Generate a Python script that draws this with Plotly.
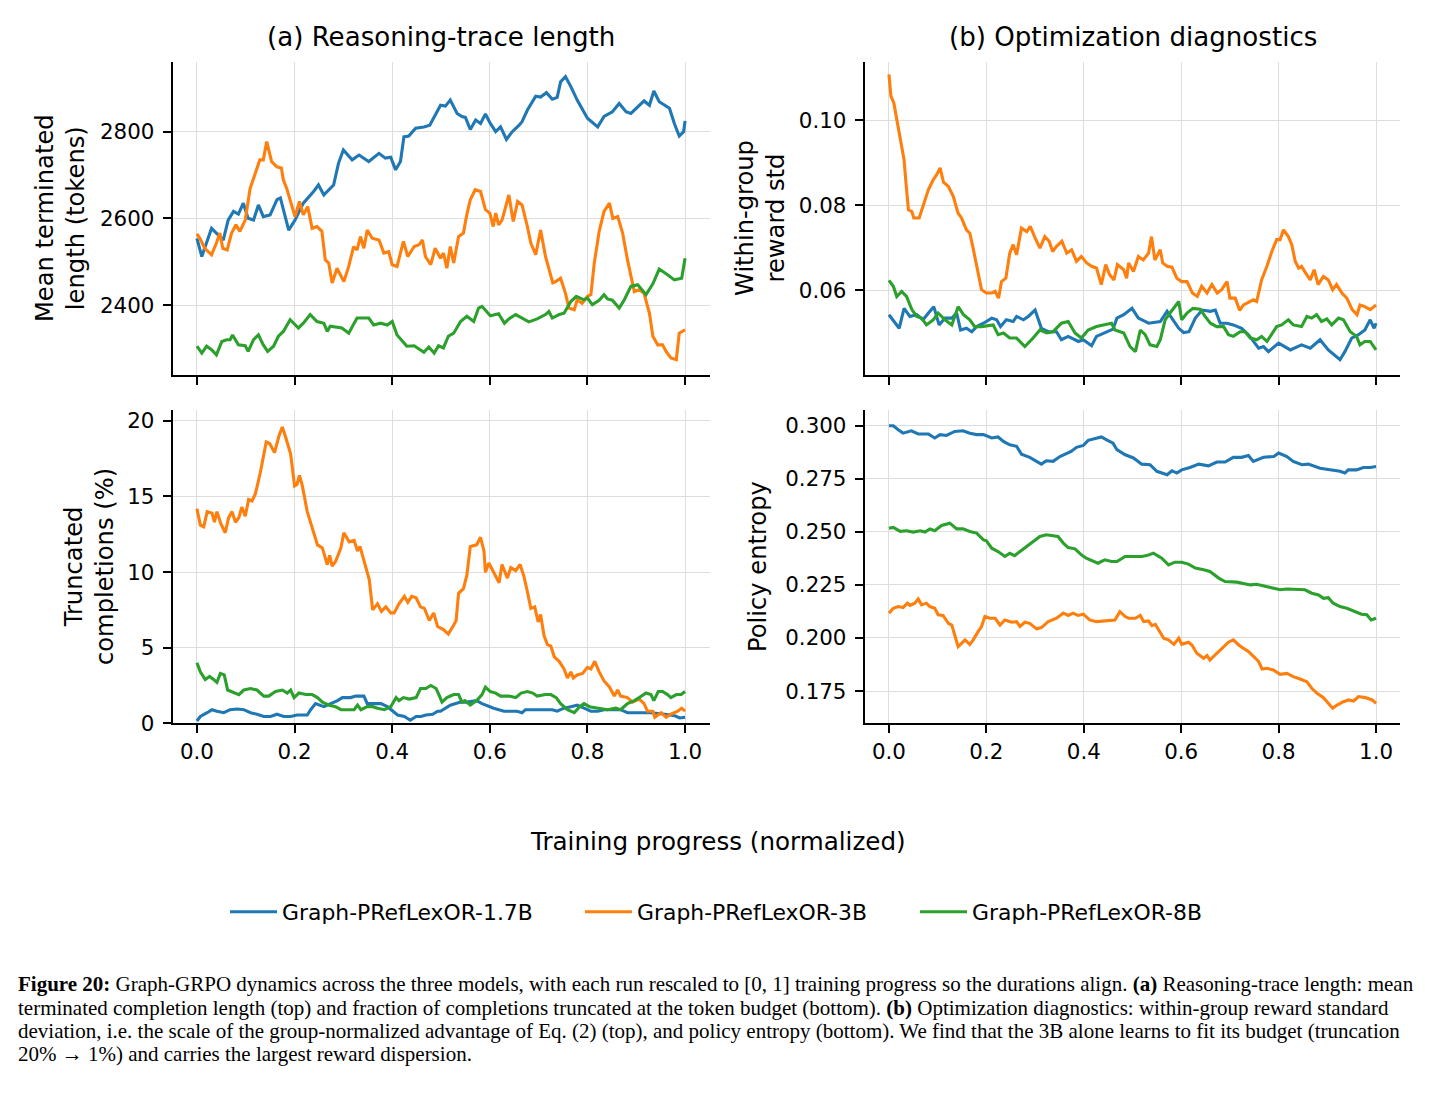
import plotly.graph_objects as go

# ---------------- data ----------------
models = ["Graph-PRefLexOR-1.7B", "Graph-PRefLexOR-3B", "Graph-PRefLexOR-8B"]
colors = ["#1f77b4", "#ff7f0e", "#2ca02c"]
progress_ticks = [0.0, 0.2, 0.4, 0.6, 0.8, 1.0]
progress_tick_labels = ["0.0", "0.2", "0.4", "0.6", "0.8", "1.0"]

length_ticks = [2400, 2600, 2800]
trunc_ticks = [0, 5, 10, 15, 20]
std_ticks = [0.06, 0.08, 0.10]
std_tick_labels = ["0.06", "0.08", "0.10"]
entropy_ticks = [0.175, 0.200, 0.225, 0.250, 0.275, 0.300]
entropy_tick_labels = ["0.175", "0.200", "0.225", "0.250", "0.275", "0.300"]

# (progress, value) pairs
length_17b = [(0.0,2554),(0.01,2512),(0.03,2577),(0.04,2566),(0.054,2550),(0.064,2596),(0.075,2616),(0.085,2610),(0.095,2635),(0.105,2600),(0.116,2596),(0.126,2631),(0.136,2604),(0.15,2608),(0.164,2643),(0.171,2647),(0.188,2573),(0.201,2596),(0.218,2635),(0.239,2662),(0.249,2677),(0.26,2654),(0.28,2677),(0.29,2727),(0.30,2758),(0.318,2735),(0.332,2746),(0.352,2731),(0.373,2750),(0.386,2739),(0.397,2741),(0.407,2712),(0.417,2731),(0.424,2788),(0.434,2790),(0.448,2808),(0.465,2811),(0.477,2815),(0.489,2842),(0.499,2861),(0.509,2859),(0.519,2873),(0.533,2842),(0.543,2835),(0.55,2833),(0.56,2805),(0.571,2827),(0.581,2819),(0.591,2841),(0.601,2819),(0.612,2800),(0.622,2811),(0.634,2782),(0.646,2800),(0.66,2815),(0.666,2823),(0.677,2850),(0.694,2882),(0.704,2880),(0.716,2890),(0.728,2875),(0.738,2879),(0.745,2915),(0.755,2927),(0.766,2904),(0.779,2873),(0.8,2831),(0.821,2811),(0.834,2835),(0.851,2846),(0.865,2865),(0.879,2846),(0.889,2842),(0.903,2857),(0.916,2871),(0.927,2861),(0.936,2894),(0.947,2869),(0.958,2861),(0.968,2854),(0.978,2819),(0.988,2790),(0.997,2800),(1.0,2825)]
length_3b = [(0.0,2564),(0.006,2554),(0.016,2531),(0.03,2516),(0.04,2543),(0.047,2566),(0.053,2531),(0.062,2527),(0.071,2566),(0.08,2585),(0.088,2570),(0.099,2596),(0.109,2669),(0.119,2704),(0.129,2735),(0.136,2735),(0.143,2777),(0.153,2731),(0.164,2719),(0.173,2716),(0.177,2689),(0.184,2669),(0.194,2627),(0.201,2604),(0.21,2639),(0.218,2608),(0.227,2627),(0.236,2577),(0.246,2581),(0.256,2570),(0.263,2504),(0.27,2497),(0.277,2451),(0.287,2485),(0.301,2454),(0.311,2489),(0.321,2535),(0.328,2527),(0.335,2558),(0.342,2531),(0.349,2573),(0.359,2554),(0.373,2550),(0.383,2520),(0.393,2523),(0.4,2493),(0.41,2489),(0.423,2547),(0.432,2512),(0.445,2535),(0.455,2539),(0.462,2550),(0.468,2512),(0.479,2493),(0.488,2531),(0.499,2508),(0.505,2520),(0.512,2485),(0.519,2535),(0.526,2497),(0.536,2558),(0.546,2566),(0.552,2604),(0.56,2643),(0.57,2666),(0.581,2662),(0.591,2620),(0.6,2612),(0.607,2581),(0.612,2612),(0.618,2585),(0.625,2596),(0.639,2654),(0.648,2593),(0.657,2639),(0.666,2631),(0.677,2581),(0.684,2543),(0.694,2516),(0.704,2573),(0.714,2512),(0.729,2451),(0.735,2454),(0.745,2462),(0.755,2427),(0.762,2393),(0.773,2389),(0.779,2412),(0.789,2404),(0.8,2420),(0.807,2424),(0.814,2497),(0.824,2570),(0.834,2616),(0.845,2635),(0.852,2600),(0.862,2604),(0.872,2566),(0.882,2504),(0.889,2466),(0.896,2431),(0.906,2435),(0.916,2427),(0.927,2381),(0.934,2328),(0.944,2308),(0.954,2308),(0.961,2293),(0.971,2278),(0.982,2274),(0.988,2335),(1.0,2343)]
length_8b = [(0.0,2305),(0.01,2289),(0.02,2305),(0.03,2297),(0.04,2285),(0.051,2316),(0.061,2320),(0.068,2320),(0.073,2331),(0.085,2308),(0.099,2306),(0.105,2293),(0.116,2320),(0.126,2331),(0.136,2308),(0.145,2293),(0.157,2305),(0.167,2328),(0.177,2339),(0.191,2366),(0.208,2347),(0.218,2358),(0.232,2378),(0.246,2362),(0.26,2358),(0.267,2339),(0.273,2351),(0.297,2347),(0.311,2335),(0.328,2370),(0.352,2370),(0.362,2354),(0.376,2358),(0.39,2354),(0.4,2362),(0.41,2331),(0.43,2305),(0.445,2306),(0.465,2291),(0.475,2303),(0.486,2289),(0.495,2306),(0.505,2301),(0.515,2328),(0.526,2335),(0.54,2362),(0.553,2374),(0.567,2362),(0.577,2393),(0.584,2397),(0.601,2375),(0.618,2380),(0.63,2358),(0.639,2368),(0.653,2378),(0.666,2370),(0.68,2361),(0.697,2368),(0.714,2378),(0.721,2385),(0.728,2370),(0.742,2378),(0.752,2381),(0.766,2408),(0.777,2420),(0.793,2412),(0.8,2416),(0.81,2401),(0.824,2411),(0.834,2424),(0.841,2414),(0.851,2411),(0.865,2393),(0.875,2411),(0.889,2443),(0.903,2447),(0.92,2424),(0.934,2449),(0.947,2483),(0.964,2470),(0.978,2458),(0.993,2462),(1.0,2508)]

trunc_17b = [(0.0,0.15),(0.007,0.45),(0.021,0.7),(0.031,0.9),(0.041,0.8),(0.055,0.7),(0.068,0.9),(0.082,0.95),(0.096,0.9),(0.11,0.7),(0.123,0.6),(0.137,0.45),(0.151,0.45),(0.164,0.6),(0.178,0.45),(0.192,0.45),(0.205,0.55),(0.226,0.55),(0.233,0.9),(0.243,1.3),(0.26,1.1),(0.274,1.3),(0.288,1.5),(0.298,1.7),(0.315,1.7),(0.325,1.8),(0.342,1.8),(0.349,1.3),(0.36,1.3),(0.377,1.3),(0.39,1.1),(0.401,0.8),(0.411,0.55),(0.425,0.45),(0.437,0.2),(0.449,0.45),(0.459,0.45),(0.469,0.55),(0.483,0.6),(0.493,0.8),(0.499,0.8),(0.519,1.2),(0.54,1.4),(0.553,1.4),(0.573,1.5),(0.584,1.3),(0.598,1.1),(0.608,1.0),(0.629,0.8),(0.643,0.8),(0.656,0.8),(0.666,0.7),(0.673,0.9),(0.684,0.9),(0.711,0.9),(0.728,0.9),(0.738,0.8),(0.752,1.0),(0.766,1.1),(0.779,1.2),(0.793,1.0),(0.807,0.8),(0.821,0.8),(0.834,0.9),(0.851,0.9),(0.868,0.9),(0.882,0.7),(0.903,0.7),(0.93,0.7),(0.958,0.6),(0.979,0.5),(0.989,0.35),(1.0,0.4)]
trunc_3b = [(0.0,14.2),(0.007,13.1),(0.014,13.0),(0.021,14.0),(0.031,13.9),(0.036,13.3),(0.041,14.0),(0.049,13.2),(0.058,12.6),(0.065,13.6),(0.072,14.0),(0.079,13.3),(0.086,13.6),(0.092,14.3),(0.099,13.7),(0.106,14.8),(0.113,14.7),(0.12,15.2),(0.13,16.6),(0.142,18.6),(0.149,18.5),(0.159,17.9),(0.168,19.0),(0.175,19.6),(0.182,18.9),(0.192,17.8),(0.2,15.7),(0.205,15.8),(0.21,16.4),(0.216,15.7),(0.226,14.0),(0.236,12.9),(0.247,11.8),(0.257,11.6),(0.267,10.5),(0.272,11.1),(0.277,10.4),(0.284,10.7),(0.295,11.6),(0.301,12.6),(0.312,12.0),(0.322,12.1),(0.329,11.4),(0.334,11.7),(0.342,10.7),(0.353,9.5),(0.36,7.5),(0.37,7.9),(0.378,7.4),(0.387,7.7),(0.397,7.3),(0.404,7.3),(0.414,7.9),(0.425,8.4),(0.432,8.0),(0.44,8.4),(0.449,8.3),(0.458,7.7),(0.466,7.6),(0.476,6.8),(0.485,7.3),(0.493,6.4),(0.505,6.2),(0.515,5.9),(0.526,6.5),(0.531,6.8),(0.536,8.6),(0.546,8.9),(0.553,9.8),(0.56,11.7),(0.573,11.8),(0.581,12.3),(0.588,11.4),(0.591,10.0),(0.598,10.6),(0.608,10.0),(0.619,9.3),(0.625,10.5),(0.636,9.6),(0.643,10.3),(0.653,10.1),(0.662,10.5),(0.67,9.7),(0.677,8.7),(0.684,7.6),(0.692,7.7),(0.699,6.7),(0.704,7.2),(0.711,5.8),(0.718,5.2),(0.725,5.1),(0.732,4.4),(0.742,4.1),(0.752,3.6),(0.759,3.0),(0.766,3.4),(0.771,3.0),(0.779,3.2),(0.79,3.3),(0.8,3.7),(0.807,3.6),(0.815,4.1),(0.824,3.4),(0.834,2.8),(0.845,2.4),(0.855,1.8),(0.862,2.2),(0.868,1.8),(0.882,1.7),(0.892,1.4),(0.906,1.6),(0.916,1.3),(0.923,0.8),(0.934,0.8),(0.938,0.4),(0.951,0.7),(0.961,0.4),(0.971,0.6),(0.985,0.8),(0.993,1.0),(1.0,0.8)]
trunc_8b = [(0.0,4.0),(0.007,3.4),(0.017,2.9),(0.026,3.1),(0.034,2.9),(0.041,2.7),(0.048,3.3),(0.056,3.2),(0.063,2.2),(0.072,2.1),(0.086,1.9),(0.096,2.2),(0.11,2.3),(0.123,2.2),(0.137,1.8),(0.147,1.8),(0.161,2.1),(0.175,2.2),(0.185,2.0),(0.192,2.2),(0.199,1.7),(0.209,2.0),(0.223,1.9),(0.236,1.9),(0.247,1.7),(0.257,1.4),(0.271,1.2),(0.284,1.1),(0.295,0.9),(0.308,0.9),(0.322,0.9),(0.329,1.2),(0.336,0.9),(0.349,1.1),(0.36,1.1),(0.37,1.0),(0.384,0.9),(0.397,1.1),(0.408,1.7),(0.414,1.5),(0.423,1.7),(0.435,1.6),(0.449,1.7),(0.458,2.3),(0.469,2.3),(0.479,2.5),(0.49,2.3),(0.497,1.8),(0.502,1.4),(0.512,1.7),(0.526,1.9),(0.536,1.9),(0.543,1.4),(0.549,1.5),(0.56,1.2),(0.573,1.5),(0.584,1.9),(0.591,2.4),(0.601,2.1),(0.612,2.0),(0.622,1.8),(0.639,1.8),(0.653,1.7),(0.664,2.0),(0.677,2.1),(0.688,2.0),(0.697,1.8),(0.714,1.9),(0.725,1.9),(0.736,1.7),(0.745,1.3),(0.759,0.9),(0.773,0.7),(0.784,1.1),(0.793,1.3),(0.804,1.1),(0.821,1.0),(0.841,0.9),(0.858,1.0),(0.868,0.9),(0.882,1.3),(0.896,1.5),(0.906,1.7),(0.92,2.0),(0.93,1.9),(0.936,1.5),(0.945,2.1),(0.954,2.1),(0.964,1.9),(0.971,1.7),(0.982,1.9),(0.992,1.9),(1.0,2.1)]

std_17b = [(0.0,0.0542),(0.012,0.0522),(0.021,0.051),(0.031,0.0557),(0.043,0.0538),(0.057,0.0542),(0.07,0.053),(0.081,0.0546),(0.092,0.0561),(0.103,0.0518),(0.115,0.0534),(0.129,0.0534),(0.139,0.0546),(0.147,0.0506),(0.159,0.051),(0.17,0.0502),(0.18,0.0514),(0.194,0.0522),(0.211,0.0534),(0.221,0.053),(0.229,0.0514),(0.241,0.053),(0.255,0.0526),(0.262,0.0538),(0.276,0.053),(0.286,0.0538),(0.3,0.0553),(0.313,0.051),(0.327,0.0502),(0.344,0.0502),(0.354,0.0483),(0.368,0.0491),(0.389,0.0479),(0.399,0.0483),(0.416,0.0469),(0.426,0.0491),(0.443,0.0499),(0.46,0.0508),(0.468,0.0534),(0.482,0.0542),(0.499,0.0557),(0.512,0.0534),(0.533,0.0522),(0.557,0.0526),(0.571,0.055),(0.581,0.0534),(0.595,0.051),(0.605,0.05),(0.616,0.0502),(0.629,0.0534),(0.643,0.0553),(0.66,0.055),(0.67,0.0553),(0.68,0.0522),(0.694,0.0522),(0.707,0.0518),(0.724,0.051),(0.738,0.0495),(0.759,0.0463),(0.769,0.0467),(0.779,0.0455),(0.8,0.0475),(0.824,0.0459),(0.847,0.0471),(0.865,0.0463),(0.885,0.0483),(0.902,0.0459),(0.926,0.0436),(0.936,0.0455),(0.95,0.0487),(0.964,0.0495),(0.977,0.0506),(0.988,0.053),(0.996,0.051),(1.0,0.0522)]
std_3b = [(0.0,0.1108),(0.004,0.1057),(0.01,0.1041),(0.016,0.1002),(0.024,0.0954),(0.031,0.0907),(0.035,0.0852),(0.04,0.0789),(0.047,0.0785),(0.051,0.077),(0.062,0.077),(0.07,0.0797),(0.081,0.0837),(0.091,0.086),(0.098,0.0872),(0.105,0.0888),(0.112,0.0854),(0.122,0.0844),(0.132,0.0821),(0.142,0.0781),(0.149,0.077),(0.159,0.0742),(0.166,0.0734),(0.172,0.0703),(0.18,0.0656),(0.19,0.0601),(0.2,0.0593),(0.211,0.0593),(0.218,0.0597),(0.225,0.0581),(0.231,0.062),(0.24,0.0628),(0.248,0.0687),(0.255,0.0707),(0.262,0.0683),(0.272,0.0746),(0.283,0.0738),(0.29,0.075),(0.3,0.0723),(0.31,0.0699),(0.32,0.0726),(0.329,0.0715),(0.336,0.0691),(0.344,0.0703),(0.355,0.0715),(0.365,0.0687),(0.375,0.0695),(0.385,0.0668),(0.395,0.0679),(0.406,0.0664),(0.416,0.0656),(0.426,0.0652),(0.436,0.0613),(0.445,0.066),(0.453,0.0636),(0.462,0.0624),(0.469,0.066),(0.482,0.0648),(0.488,0.0628),(0.492,0.0664),(0.502,0.0644),(0.512,0.0679),(0.522,0.0671),(0.533,0.0687),(0.539,0.0726),(0.546,0.0671),(0.557,0.0695),(0.562,0.0664),(0.571,0.0656),(0.581,0.0654),(0.591,0.0628),(0.601,0.062),(0.612,0.062),(0.623,0.0593),(0.633,0.0585),(0.642,0.0609),(0.653,0.0593),(0.663,0.0613),(0.674,0.0593),(0.683,0.0601),(0.694,0.062),(0.7,0.0581),(0.711,0.0581),(0.72,0.0552),(0.728,0.0565),(0.742,0.0573),(0.748,0.0577),(0.755,0.0573),(0.765,0.0624),(0.776,0.0656),(0.786,0.0691),(0.796,0.0719),(0.803,0.0719),(0.81,0.0742),(0.82,0.0726),(0.827,0.0707),(0.834,0.0668),(0.841,0.0652),(0.847,0.0656),(0.858,0.0636),(0.865,0.0624),(0.873,0.0648),(0.881,0.0613),(0.892,0.0632),(0.902,0.0624),(0.911,0.0601),(0.919,0.0613),(0.93,0.0593),(0.94,0.0581),(0.951,0.0554),(0.961,0.0542),(0.967,0.0565),(0.977,0.0561),(0.988,0.0554),(1.0,0.0565)]
std_8b = [(0.0,0.0623),(0.009,0.0609),(0.016,0.0585),(0.026,0.0597),(0.036,0.0585),(0.047,0.0554),(0.057,0.0538),(0.067,0.0534),(0.077,0.0518),(0.091,0.053),(0.101,0.0546),(0.115,0.053),(0.129,0.0518),(0.142,0.0561),(0.153,0.0542),(0.166,0.053),(0.176,0.0514),(0.19,0.0514),(0.214,0.0518),(0.224,0.0495),(0.235,0.0499),(0.248,0.0487),(0.262,0.0487),(0.279,0.0467),(0.296,0.0487),(0.31,0.0506),(0.324,0.0499),(0.337,0.0502),(0.354,0.0522),(0.368,0.0526),(0.382,0.0499),(0.395,0.0487),(0.409,0.0506),(0.426,0.0514),(0.44,0.0518),(0.457,0.0522),(0.464,0.0506),(0.482,0.0499),(0.495,0.0467),(0.506,0.0455),(0.516,0.0506),(0.526,0.0495),(0.536,0.0471),(0.55,0.0467),(0.557,0.0483),(0.567,0.053),(0.577,0.0546),(0.588,0.0563),(0.595,0.0573),(0.601,0.053),(0.612,0.0546),(0.624,0.0557),(0.639,0.0555),(0.649,0.0538),(0.66,0.0522),(0.673,0.0514),(0.687,0.0514),(0.697,0.0495),(0.707,0.0491),(0.721,0.0502),(0.731,0.0502),(0.742,0.0487),(0.755,0.0483),(0.765,0.0491),(0.776,0.0479),(0.796,0.0514),(0.806,0.0518),(0.82,0.053),(0.83,0.0518),(0.847,0.0514),(0.858,0.0538),(0.868,0.0534),(0.878,0.0542),(0.888,0.0526),(0.899,0.0532),(0.909,0.0518),(0.923,0.0534),(0.933,0.053),(0.947,0.0502),(0.96,0.0491),(0.967,0.0471),(0.977,0.0479),(0.988,0.0479),(1.0,0.0459)]

entropy_17b = [(0.0,0.300),(0.009,0.300),(0.019,0.2981),(0.029,0.2965),(0.046,0.2976),(0.06,0.2961),(0.081,0.2961),(0.094,0.2942),(0.105,0.2958),(0.118,0.2954),(0.135,0.2973),(0.152,0.2976),(0.166,0.2965),(0.18,0.2958),(0.194,0.2958),(0.211,0.2942),(0.224,0.2947),(0.235,0.2926),(0.248,0.291),(0.262,0.2903),(0.272,0.2866),(0.289,0.2851),(0.303,0.2832),(0.313,0.2819),(0.323,0.2835),(0.337,0.2832),(0.351,0.2855),(0.365,0.2871),(0.374,0.2879),(0.385,0.2898),(0.399,0.2907),(0.409,0.2931),(0.423,0.2939),(0.436,0.2947),(0.446,0.2934),(0.46,0.2918),(0.468,0.2887),(0.485,0.2863),(0.502,0.2848),(0.519,0.2819),(0.536,0.2816),(0.55,0.2785),(0.571,0.2769),(0.581,0.2788),(0.591,0.2777),(0.601,0.2792),(0.618,0.2803),(0.636,0.2819),(0.656,0.2811),(0.673,0.2829),(0.69,0.2829),(0.707,0.2851),(0.724,0.2851),(0.738,0.286),(0.748,0.2832),(0.769,0.2851),(0.79,0.2855),(0.8,0.2871),(0.817,0.2855),(0.83,0.2832),(0.848,0.2816),(0.861,0.2819),(0.885,0.28),(0.909,0.2792),(0.926,0.2785),(0.936,0.2777),(0.943,0.2792),(0.96,0.2792),(0.974,0.2803),(0.988,0.2803),(1.0,0.2808)]
entropy_3b = [(0.0,0.2117),(0.009,0.214),(0.019,0.2148),(0.029,0.2143),(0.038,0.2164),(0.043,0.2153),(0.053,0.2164),(0.06,0.2184),(0.067,0.2156),(0.077,0.2164),(0.084,0.2148),(0.094,0.214),(0.101,0.2109),(0.111,0.2106),(0.122,0.2069),(0.129,0.2061),(0.135,0.2014),(0.142,0.1959),(0.149,0.1975),(0.156,0.1991),(0.166,0.197),(0.173,0.1991),(0.183,0.203),(0.19,0.2054),(0.197,0.2101),(0.207,0.2093),(0.218,0.2093),(0.228,0.2061),(0.238,0.2085),(0.252,0.2074),(0.262,0.2077),(0.269,0.2054),(0.279,0.2074),(0.289,0.2069),(0.303,0.2043),(0.313,0.2049),(0.327,0.2077),(0.344,0.2093),(0.358,0.2117),(0.368,0.2106),(0.378,0.2117),(0.388,0.2106),(0.399,0.2112),(0.412,0.2085),(0.426,0.2077),(0.44,0.208),(0.453,0.2085),(0.464,0.2085),(0.474,0.2124),(0.485,0.2101),(0.492,0.2093),(0.506,0.2093),(0.516,0.2106),(0.523,0.2077),(0.533,0.208),(0.54,0.2058),(0.547,0.2064),(0.557,0.2022),(0.564,0.1999),(0.574,0.1991),(0.585,0.197),(0.595,0.1999),(0.601,0.197),(0.615,0.198),(0.622,0.1967),(0.632,0.1928),(0.646,0.1904),(0.653,0.1917),(0.659,0.1896),(0.673,0.1928),(0.687,0.1959),(0.697,0.198),(0.707,0.1991),(0.718,0.1967),(0.728,0.1951),(0.738,0.1936),(0.749,0.1912),(0.759,0.1889),(0.766,0.1854),(0.776,0.1857),(0.789,0.1849),(0.803,0.1829),(0.817,0.1833),(0.83,0.1818),(0.844,0.1807),(0.858,0.1794),(0.868,0.1763),(0.879,0.1739),(0.892,0.1719),(0.902,0.1692),(0.911,0.1669),(0.92,0.1684),(0.933,0.17),(0.944,0.1708),(0.954,0.1703),(0.964,0.1724),(0.978,0.1719),(0.992,0.1708),(1.0,0.1692)]
entropy_8b = [(0.0,0.2517),(0.009,0.2521),(0.023,0.2502),(0.036,0.2505),(0.05,0.2499),(0.064,0.2505),(0.074,0.2499),(0.084,0.2514),(0.094,0.2505),(0.108,0.253),(0.125,0.2541),(0.139,0.2514),(0.152,0.2514),(0.166,0.2502),(0.18,0.2494),(0.194,0.2462),(0.2,0.2458),(0.211,0.2423),(0.224,0.2407),(0.238,0.2384),(0.248,0.2399),(0.258,0.2388),(0.269,0.2407),(0.282,0.2431),(0.296,0.2455),(0.31,0.2478),(0.323,0.2486),(0.337,0.2483),(0.347,0.2478),(0.358,0.2447),(0.368,0.2426),(0.382,0.242),(0.395,0.2392),(0.405,0.2376),(0.419,0.2363),(0.429,0.2352),(0.443,0.2368),(0.457,0.236),(0.468,0.236),(0.485,0.2384),(0.499,0.2384),(0.519,0.2384),(0.529,0.2388),(0.543,0.2399),(0.56,0.2376),(0.574,0.2344),(0.587,0.2357),(0.601,0.2357),(0.615,0.2348),(0.629,0.2329),(0.646,0.2321),(0.659,0.2313),(0.677,0.2282),(0.69,0.2266),(0.714,0.2263),(0.728,0.2258),(0.742,0.225),(0.755,0.2253),(0.776,0.2242),(0.789,0.2234),(0.803,0.2227),(0.817,0.2231),(0.837,0.2227),(0.854,0.2227),(0.868,0.2211),(0.882,0.2203),(0.892,0.2187),(0.902,0.219),(0.912,0.2164),(0.926,0.2148),(0.94,0.214),(0.953,0.2128),(0.97,0.2112),(0.981,0.2109),(0.99,0.2085),(1.0,0.2093)]

panel_titles = ["(a) Reasoning-trace length", "(b) Optimization diagnostics"]
y_titles = ["Mean terminated<br>length (tokens)", "Within-group<br>reward std",
            "Truncated<br>completions (%)", "Policy entropy"]
x_title = "Training progress (normalized)"
caption_lines = [
    "<b>Figure 20:</b> Graph-GRPO dynamics across the three models, with each run rescaled to [0, 1] training progress so the durations align. <b>(a)</b> Reasoning-trace length: mean",
    "terminated completion length (top) and fraction of completions truncated at the token budget (bottom). <b>(b)</b> Optimization diagnostics: within-group reward standard",
    "deviation, i.e. the scale of the group-normalized advantage of Eq. (2) (top), and policy entropy (bottom). We find that the 3B alone learns to fit its budget (truncation",
    "20% \u2192 1%) and carries the largest reward dispersion.",
]

# ---------------- layout helpers ----------------
W, H = 1436, 1097
FONT = "DejaVu Sans"


def fx(p):
    return p / W


def fy(p):
    return 1 - p / H


x_left = [fx(172.5), fx(709.5)]
x_right = [fx(864.6), fx(1400.4)]
y_top = [fy(375), fy(61.7)]
y_bot = [fy(723.3), fy(410)]

fig = go.Figure()

panels = [
    ("x", "y", [length_17b, length_3b, length_8b]),
    ("x2", "y2", [std_17b, std_3b, std_8b]),
    ("x3", "y3", [trunc_17b, trunc_3b, trunc_8b]),
    ("x4", "y4", [entropy_17b, entropy_3b, entropy_8b]),
]
legend_ids = ["legend", "legend2", "legend3"]
for pi, (xa, ya, series) in enumerate(panels):
    for si, pts in enumerate(series):
        fig.add_trace(go.Scatter(
            x=[p[0] for p in pts], y=[p[1] for p in pts],
            mode="lines", name=models[si],
            line=dict(color=colors[si], width=3.1),
            xaxis=xa, yaxis=ya,
            showlegend=(pi == 0), legend=legend_ids[si],
        ))

TICK = 21.4
common = dict(
    showline=True, linecolor="black", linewidth=1.7,
    ticks="outside", ticklen=8, tickwidth=1.7, tickcolor="black",
    showgrid=True, gridcolor="#dddddd", gridwidth=1.1,
    zeroline=False, mirror=False,
    tickfont=dict(family=FONT, size=TICK, color="black"),
)

xcommon = dict(common, range=[-0.05, 1.05], tickmode="array",
               tickvals=progress_ticks, ticktext=progress_tick_labels)

fig.update_layout(
    width=W, height=H,
    margin=dict(l=0, r=0, t=0, b=0),
    template="none",
    paper_bgcolor="white", plot_bgcolor="white",
    font=dict(family=FONT, color="black"),
    xaxis=dict(xcommon, domain=x_left, anchor="y", showticklabels=False),
    yaxis=dict(common, domain=y_top, anchor="x", range=[2238.5, 2961.5],
               tickmode="array", tickvals=length_ticks, ticklabelstandoff=4),
    xaxis2=dict(xcommon, domain=x_right, anchor="y2", showticklabels=False),
    yaxis2=dict(common, domain=y_top, anchor="x2", range=[0.0400, 0.1138],
                tickmode="array", tickvals=std_ticks, ticktext=std_tick_labels,
                ticklabelstandoff=4),
    xaxis3=dict(xcommon, domain=x_left, anchor="y3"),
    yaxis3=dict(common, domain=y_bot, anchor="x3", range=[0, 20.72],
                tickmode="array", tickvals=trunc_ticks, ticklabelstandoff=4),
    xaxis4=dict(xcommon, domain=x_right, anchor="y4"),
    yaxis4=dict(common, domain=y_bot, anchor="x4", range=[0.1598, 0.3074],
                tickmode="array", tickvals=entropy_ticks,
                ticktext=entropy_tick_labels, ticklabelstandoff=4),
    showlegend=True,
)

leg_common = dict(orientation="h", yanchor="middle", y=fy(912), xanchor="left",
                  bgcolor="rgba(0,0,0,0)", borderwidth=0, itemwidth=47,
                  font=dict(family=FONT, size=21.9, color="black"))
fig.update_layout(
    legend=dict(leg_common, x=fx(225)),
    legend2=dict(leg_common, x=fx(580)),
    legend3=dict(leg_common, x=fx(915)),
)

ann = []
for txt, xd in zip(panel_titles, [x_left, x_right]):
    ann.append(dict(text=txt, x=(xd[0] + xd[1]) / 2, y=fy(37),
                    xref="paper", yref="paper", showarrow=False,
                    xanchor="center", yanchor="middle",
                    font=dict(family=FONT, size=26.1, color="black")))
ylab_pos = [(60, 218), (760, 218), (89, 567), (758, 567)]
for txt, (px_, py_) in zip(y_titles, ylab_pos):
    ann.append(dict(text=txt, x=fx(px_), y=fy(py_), xref="paper", yref="paper",
                    showarrow=False, textangle=-90, xanchor="center",
                    yanchor="middle",
                    font=dict(family=FONT, size=24.2, color="black")))
ann.append(dict(text=x_title, x=fx(718), y=fy(841), xref="paper", yref="paper",
                showarrow=False, xanchor="center", yanchor="middle",
                font=dict(family=FONT, size=24.6, color="black")))
for i, line in enumerate(caption_lines):
    ann.append(dict(text=line, x=fx(16), y=fy([984, 1008, 1031, 1054][i]),
                    xref="paper", yref="paper", showarrow=False,
                    xanchor="left", yanchor="middle",
                    font=dict(family="Liberation Serif", size=21.0, color="black")))
fig.update_layout(annotations=ann)

fig.write_html("out.html")
